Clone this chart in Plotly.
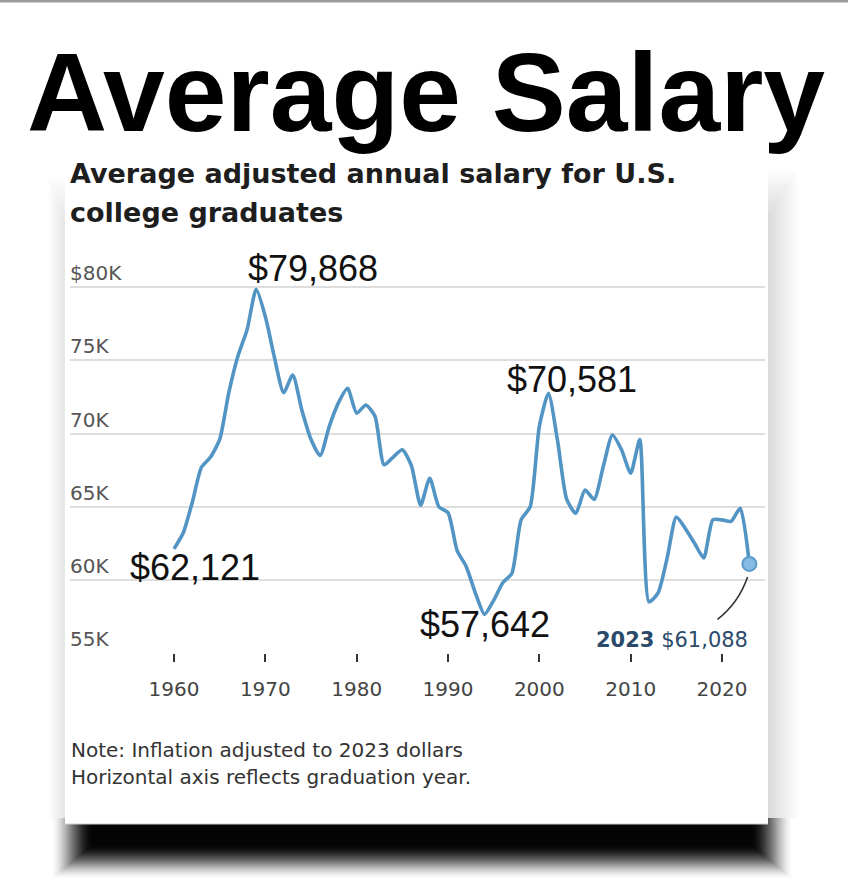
import plotly.graph_objects as go

# ---------------- data ----------------
years = list(range(1960, 2024))
salary_k = [62.12, 63.2, 65.3, 67.7, 68.4, 69.6, 72.8, 75.3, 77.1, 79.87,
            78.0, 75.2, 72.8, 74.0, 71.6, 69.6, 68.5, 70.5, 72.1, 73.1,
            71.4, 71.96, 71.2, 67.86, 68.4, 68.9, 67.8, 65.1, 66.95, 65.0,
            64.6, 62.0, 60.9, 59.1, 57.64, 58.6, 59.8, 60.45, 64.1, 65.0,
            70.5, 72.76, 69.5, 65.5, 64.55, 66.15, 65.5, 67.75, 69.9, 68.9,
            67.3, 69.6, 58.5, 59.1, 61.5, 64.3, 63.5, 62.5, 61.5, 64.1,
            64.1, 64.0, 64.9, 61.09]

y_tickvals = [55, 60, 65, 70, 75, 80]
y_ticktext = ["55K", "60K", "65K", "70K", "75K", "$80K"]
x_tickvals = [1960, 1970, 1980, 1990, 2000, 2010, 2020]

# labelled points: (year, text, xshift px, yshift px)
callout_years = [1969, 1960, 2001, 1994]
callout_text = ["$79,868", "$62,121", "$70,581", "$57,642"]
callout_dx = [57, 21, 24, 0]
callout_dy = [21, -19, 14, -10]

end_year = 2023
end_text = "<b>2023</b> $61,088"

title = "Average Salary"
subtitle1 = "Average adjusted annual salary for U.S."
subtitle2 = "college graduates"
note1 = "Note: Inflation adjusted to 2023 dollars"
note2 = "Horizontal axis reflects graduation year."

# ---------------- geometry helpers ----------------
W, H = 848, 878
L, R, T, B = 70, 83, 260, 225
PW, PH = W - L - R, H - T - B


def px(x):
    return (x - L) / PW


def py(y):
    return (H - B - y) / PH


fig = go.Figure()

fig.add_trace(go.Scatter(
    x=years, y=salary_k, mode="lines",
    line=dict(color="#5294c3", width=3.6, shape="spline", smoothing=0.6),
    hoverinfo="skip", showlegend=False, cliponaxis=False,
))
end_val = salary_k[years.index(end_year)]
fig.add_trace(go.Scatter(
    x=[end_year], y=[end_val], mode="markers",
    marker=dict(size=14, color="#86bbe3", line=dict(color="#5a9bcc", width=2)),
    hoverinfo="skip", showlegend=False, cliponaxis=False,
))

shapes = []
# top gray strip
shapes.append(dict(type="rect", xref="paper", yref="paper",
                   x0=px(0), x1=px(W), y0=py(0), y1=py(2.5),
                   fillcolor="#9c9c9c", line=dict(width=0), layer="below"))


def smooth(t):
    t = min(max(t, 0.0), 1.0)
    return t * t * (3 - 2 * t)


# bottom heavy shadow: stacked translucent layers with a smoothstep profile
N = 40
prev = 0.0
for i in range(N):
    t = (i + 1) / N
    cum = 0.97 * smooth(t)
    a = 1 - (1 - cum) / (1 - prev)
    prev = cum
    shapes.append(dict(type="rect", xref="paper", yref="paper",
                       x0=px(50 + i * 1.1), x1=px(794 - i * 1.1),
                       y0=py(818), y1=py(880 - i * 0.9),
                       fillcolor="black", opacity=max(a, 0.0),
                       line=dict(width=0), layer="below"))
# side shadows
for i in range(12):
    shapes.append(dict(type="rect", xref="paper", yref="paper",
                       x0=px(767), x1=px(798 - i * 2.5),
                       y0=py(170 + i * 4), y1=py(818),
                       fillcolor="#000", opacity=0.013,
                       line=dict(width=0), layer="below"))
    shapes.append(dict(type="rect", xref="paper", yref="paper",
                       x0=px(48 + i * 1.4), x1=px(66),
                       y0=py(175 + i * 4), y1=py(818),
                       fillcolor="#000", opacity=0.006,
                       line=dict(width=0), layer="below"))
# card
shapes.append(dict(type="rect", xref="paper", yref="paper",
                   x0=px(65), x1=px(768), y0=py(150), y1=py(824),
                   fillcolor="white", line=dict(width=0), layer="below"))
shapes.append(dict(type="line", xref="paper", yref="paper",
                   x0=px(65), x1=px(768), y0=py(824), y1=py(824),
                   line=dict(color="#cfcfcf", width=1.2), layer="below"))
# leader line for the 2023 label
shapes.append(dict(type="path", xref="x", yref="y",
                   path="M 2019.5,57.3 Q 2021.8,58.4 2022.8,60.2",
                   line=dict(color="#333", width=1.6)))

annotations = []
annotations.append(dict(text=title, xref="paper", yref="paper",
                        x=px(426), y=py(93), xanchor="center", yanchor="middle",
                        showarrow=False,
                        font=dict(family="Liberation Sans", size=111,
                                  color="#000", weight=700)))
for txt, yy in ((subtitle1, 173), (subtitle2, 212)):
    annotations.append(dict(text=txt, xref="paper", yref="paper",
                            x=px(68), y=py(yy), xanchor="left", yanchor="middle",
                            showarrow=False,
                            font=dict(family="DejaVu Sans", size=27,
                                      color="#1e1e1e", weight=700)))
for txt, yy in ((note1, 750), (note2, 777)):
    annotations.append(dict(text=txt, xref="paper", yref="paper",
                            x=px(69), y=py(yy), xanchor="left", yanchor="middle",
                            showarrow=False,
                            font=dict(family="DejaVu Sans", size=20, color="#333")))
for yr, txt, dx, dy in zip(callout_years, callout_text, callout_dx, callout_dy):
    annotations.append(dict(text=txt, x=yr, y=salary_k[years.index(yr)],
                            xref="x", yref="y", xanchor="center", yanchor="middle",
                            xshift=dx, yshift=dy, showarrow=False,
                            font=dict(family="Liberation Sans", size=36,
                                      color="#111")))
annotations.append(dict(text=end_text, x=end_year, y=end_val, xref="x", yref="y",
                        xanchor="center", yanchor="middle",
                        xshift=672 - 749, yshift=564 - 640, showarrow=False,
                        font=dict(family="DejaVu Sans", size=21, color="#2b4a6b")))

fig.update_layout(
    width=W, height=H,
    margin=dict(l=L, r=R, t=T, b=B, pad=0),
    paper_bgcolor="white", plot_bgcolor="rgba(0,0,0,0)",
    shapes=shapes, annotations=annotations, showlegend=False,
    xaxis=dict(range=[1948.61, 2024.71], tickvals=x_tickvals,
               ticks="outside", ticklen=8, tickwidth=1.6, tickcolor="#333",
               ticklabelstandoff=10,
               showgrid=False, zeroline=False, showline=False,
               tickfont=dict(family="DejaVu Sans", size=20, color="#444"),
               fixedrange=True),
    yaxis=dict(range=[55, 81.87], tickvals=y_tickvals, ticktext=y_ticktext,
               ticklabelposition="inside top", ticks="",
               ticklabelstandoff=-3,
               showgrid=True, gridcolor="#dedede", gridwidth=1.5,
               zeroline=False, showline=False,
               tickfont=dict(family="DejaVu Sans", size=20, color="#555"),
               fixedrange=True),
)

fig.write_html("out.html", config={"displayModeBar": False},
               post_script="document.body.style.margin='0';"
                           "document.documentElement.style.overflow='hidden';")
